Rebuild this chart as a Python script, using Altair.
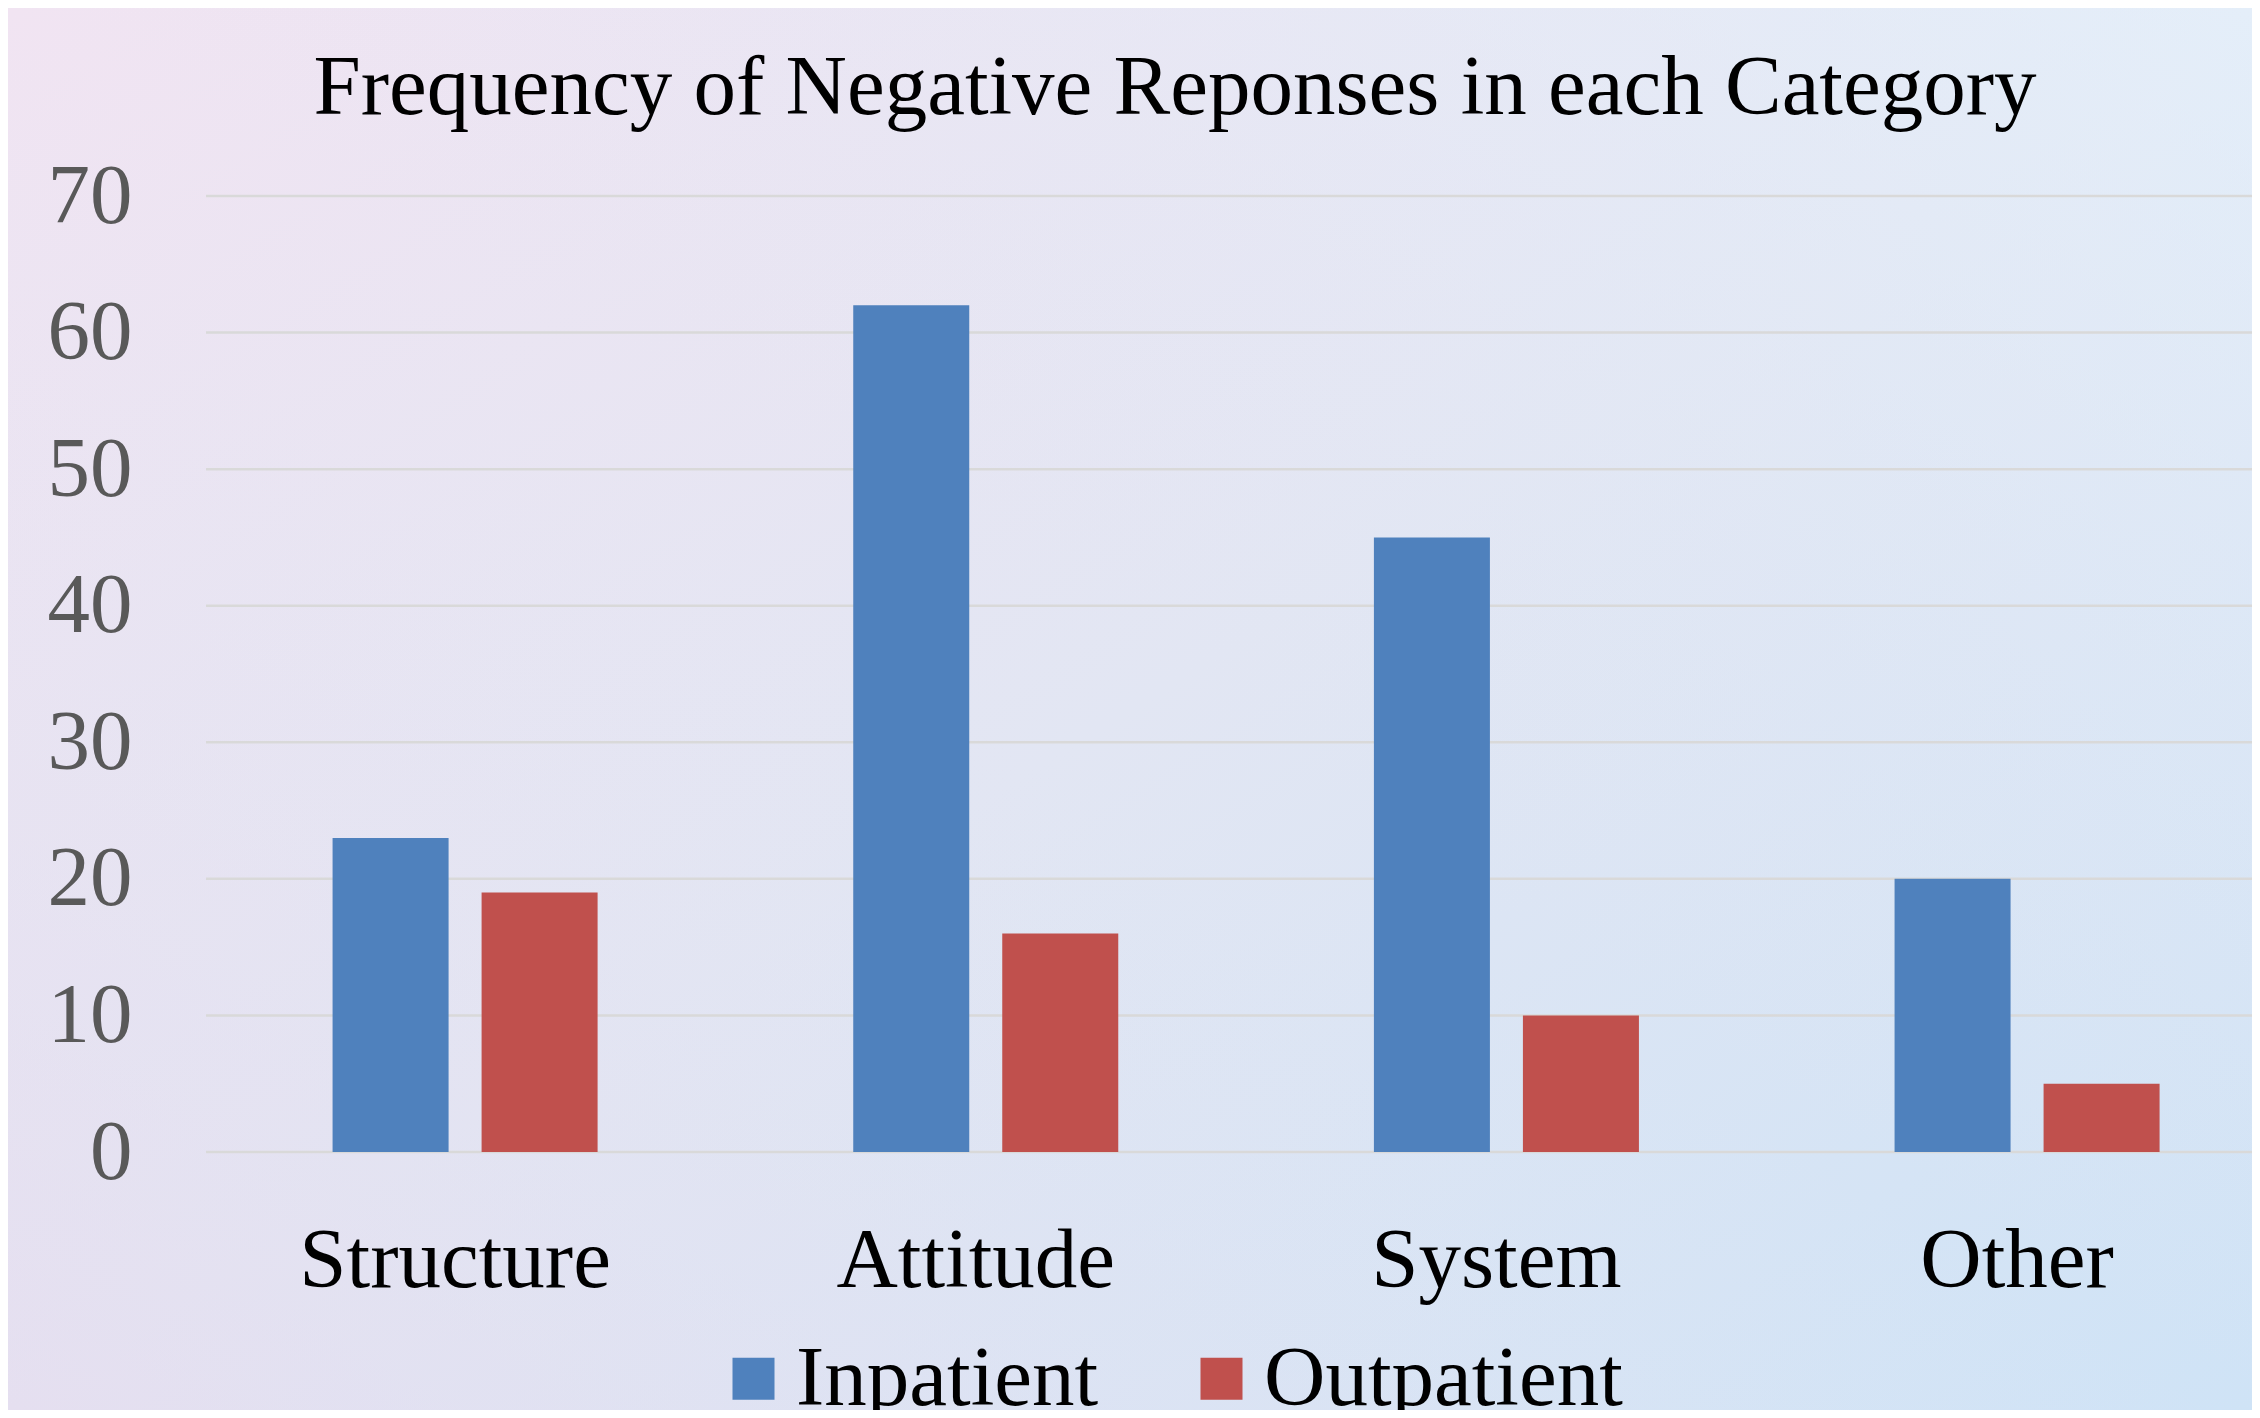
import altair as alt
import pandas as pd

categories = ["Structure", "Attitude", "System", "Other"]
inpatient = [23, 62, 45, 20]
outpatient = [19, 16, 10, 5]
series = ["Inpatient", "Outpatient"]
colors = ["#4f81bd", "#c0504d"]
y_ticks = [0, 10, 20, 30, 40, 50, 60, 70]

rows = []
for c, a, b in zip(categories, inpatient, outpatient):
    rows.append({"Category": c, "Series": "Inpatient", "Value": a})
    rows.append({"Category": c, "Series": "Outpatient", "Value": b})
df = pd.DataFrame(rows)
grid_df = pd.DataFrame({"Value": y_ticks})

FONT = "Liberation Serif"

bg_base = alt.Chart(pd.DataFrame({"k": [0]})).mark_rect(
    color=alt.LinearGradient(
        gradient="linear",
        stops=[
            alt.GradientStop(color="#f1e4f2", offset=0),
            alt.GradientStop(color="#e2e6f3", offset=0.5),
            alt.GradientStop(color="#cfe3f6", offset=1),
        ],
        x1=0, y1=0, x2=1, y2=1,
    )
).encode(x=alt.value(-198), x2=alt.value(2046), y=alt.value(-188), y2=alt.value(1214))

bg_over = alt.Chart(pd.DataFrame({"k": [0]})).mark_rect(
    color=alt.LinearGradient(
        gradient="linear",
        stops=[
            alt.GradientStop(color="rgba(232,216,237,0.5)", offset=0),
            alt.GradientStop(color="rgba(226,230,243,0)", offset=0.5),
            alt.GradientStop(color="rgba(230,246,255,0.5)", offset=1),
        ],
        x1=0, y1=1, x2=1, y2=0,
    )
).encode(x=alt.value(-198), x2=alt.value(2046), y=alt.value(-188), y2=alt.value(1214))

grid = alt.Chart(grid_df).mark_rule(color="#d9d9d9", strokeWidth=2.5).encode(
    y=alt.Y("Value:Q", scale=alt.Scale(domain=[0, 70], nice=False)),
    x=alt.value(0),
    x2=alt.value(2046),
)

bars = alt.Chart(df).mark_bar().encode(
    x=alt.X(
        "Category:N",
        sort=categories,
        scale=alt.Scale(paddingInner=0.491, paddingOuter=0.2103, align=0.578),
        axis=alt.Axis(
            title=None, labelAngle=0, ticks=False, domain=False, grid=False, zindex=1,
            labelFont=FONT, labelFontSize=85, labelColor="#000000",
            labelBaseline="alphabetic", labelPadding=134, labelLimit=1000,
            labelOffset=-10,
        ),
    ),
    xOffset=alt.XOffset("Series:N", sort=series, scale=alt.Scale(paddingInner=0.2215, paddingOuter=0)),
    y=alt.Y(
        "Value:Q",
        scale=alt.Scale(domain=[0, 70], nice=False),
        axis=alt.Axis(
            title=None, values=y_ticks, ticks=False, domain=False, grid=False, zindex=1,
            labelFont=FONT, labelFontSize=85, labelColor="#595959", labelPadding=74,
        ),
    ),
    color=alt.Color(
        "Series:N",
        sort=series,
        scale=alt.Scale(domain=series, range=colors),
        legend=alt.Legend(
            title=None, orient="none", legendX=505, legendY=1140, direction="horizontal",
            symbolType="square", symbolSize=1764, symbolStrokeWidth=0,
            labelFont=FONT, labelFontSize=85, labelColor="#000000", labelLimit=1000,
            labelOffset=0, columnPadding=80, zindex=1,
        ),
    ),
)

chart = alt.layer(bg_base, bg_over, grid, bars).properties(
    width=2046,
    height=956,
    autosize=alt.AutoSizeParams(type="none"),
    padding={"left": 198, "top": 188, "right": 0, "bottom": 258},
    title=alt.TitleParams(
        "Frequency of Negative Reponses in each Category",
        font=FONT, fontSize=85, fontWeight="normal", color="#000000",
        anchor="middle", dx=-54, offset=0, baseline="alphabetic", dy=191,
    ),
).configure_view(stroke=None).configure(background="#ffffff")

chart.save("out.html", embed_options={"renderer": "svg", "actions": False})
